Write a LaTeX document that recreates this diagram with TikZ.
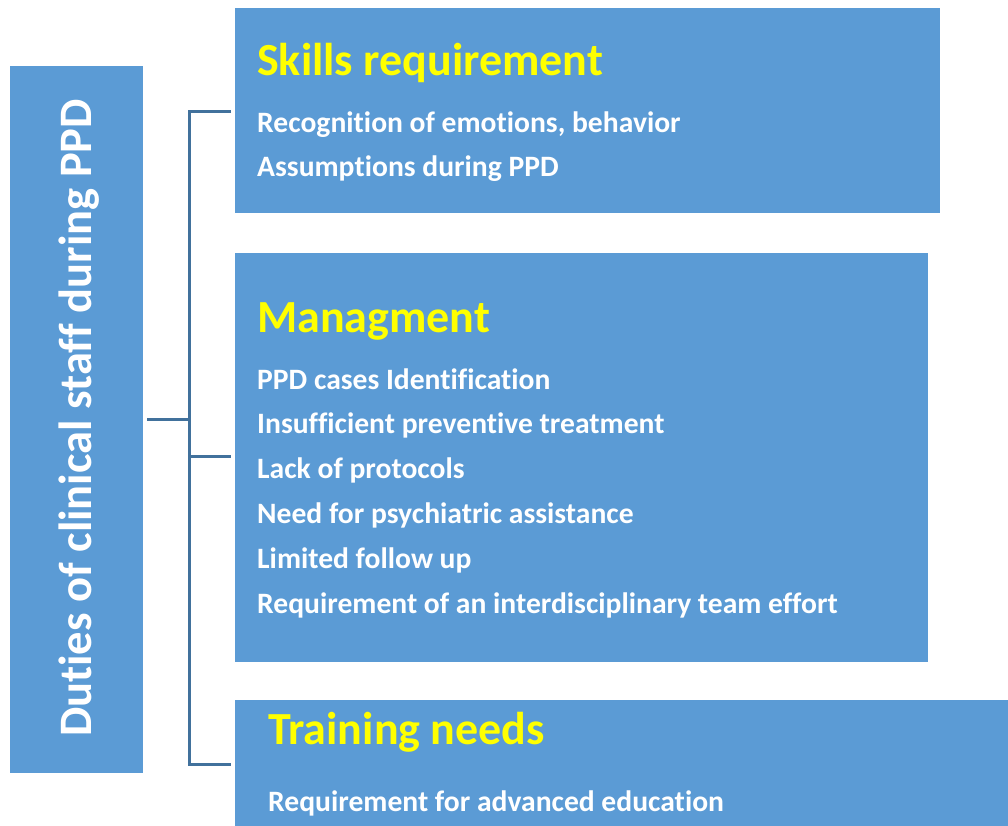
\documentclass[tikz,border=0pt]{standalone}
\usepackage{fontspec}
\setmainfont{Carlito}[Ligatures=CommonOff]
\definecolor{boxblue}{HTML}{5B9BD5}
\definecolor{linkblue}{HTML}{41719C}
\definecolor{ttlyellow}{HTML}{FFFF00}
\begin{document}
\begin{tikzpicture}[x=1pt,y=-1pt,
  panel/.style={fill=boxblue,draw=none},
  ttl/.style={anchor=base west,inner sep=0pt,text=ttlyellow,font=\bfseries\fontsize{46}{52}\selectfont},
  itm/.style={anchor=base west,inner sep=0pt,text=white,font=\bfseries\fontsize{29.6}{36}\selectfont},
  link/.style={draw=linkblue,line width=3pt}]
\useasboundingbox (0,0) rectangle (1008,826);
\fill[panel] (10,66) rectangle (143,773);
\node[rotate=90,anchor=base,inner sep=0pt,text=white,font=\bfseries\fontsize{46.5}{52}\selectfont] (main) at (91,418) {Duties of clinical staff during PPD};
\coordinate (mr) at (143,419);
\fill[panel] (235,8) rectangle (940,213);
\fill[panel] (235,253) rectangle (928,662);
\fill[panel] (235,700) rectangle (1008,826);
\coordinate (b1) at (231,112);
\coordinate (b2) at (231,456);
\coordinate (b3) at (231,764);
\coordinate (trunk) at (189,419);
\node[ttl] (t1) at (257,76) {Skills requirement};
\node[itm] (t1a) at (257,133) {Recognition of emotions, behavior};
\node[itm] (t1b) at (257,177) {Assumptions during PPD};
\node[ttl] (t2) at (257,332) {Managment};
\node[itm] (t2a) at (257,389) {PPD cases Identification};
\node[itm] (t2b) at (257,433) {Insufficient preventive treatment};
\node[itm] (t2c) at (257,478) {Lack of protocols};
\node[itm] (t2d) at (257,523) {Need for psychiatric assistance};
\node[itm] (t2e) at (257,568) {Limited follow up};
\node[itm] (t2f) at (257,613) {Requirement of an interdisciplinary team effort};
\node[ttl] (t3) at (268,744) {Training needs};
\node[itm] (t3a) at (268,811) {Requirement for advanced education};
\draw[link] ([xshift=4pt]mr) -- (trunk);
\draw[link] (b1) -| (trunk |- b3) -- (b3);
\draw[link] (trunk |- b2) -- (b2);
\end{tikzpicture}
\end{document}
